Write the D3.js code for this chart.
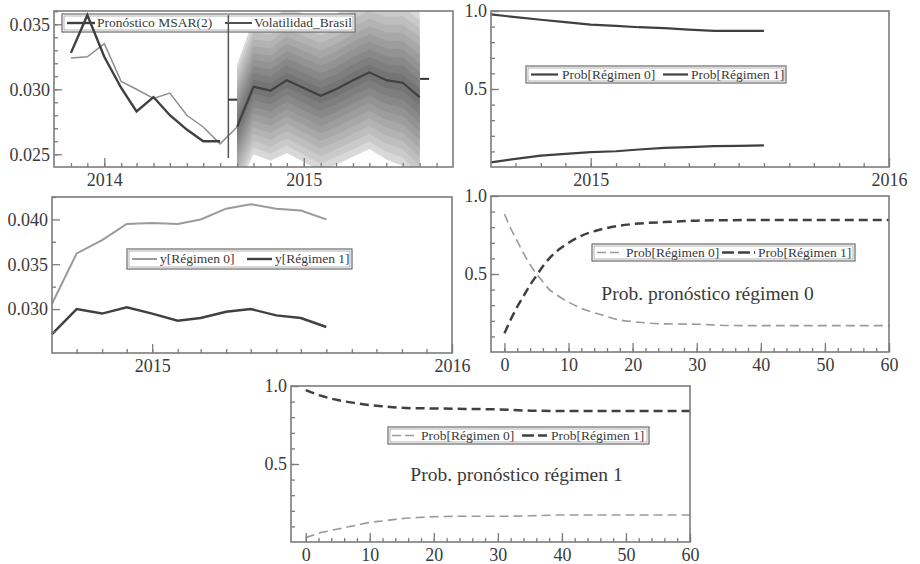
<!DOCTYPE html>
<html><head><meta charset="utf-8">
<script src="https://cdn.jsdelivr.net/npm/d3@7"></script>
<style>body{margin:0;background:#fff}svg{display:block}</style>
</head><body>
<svg id="c" width="920" height="564"></svg>
<script>
// ---------------- DATA ----------------
// Panel 1: in-sample fit and actual series (monthly)
const fitDates   = ["2013-11","2013-12","2014-01","2014-02","2014-03","2014-04","2014-05","2014-06","2014-07","2014-08"];
const msarFit    = [0.0328,0.0357,0.0325,0.0301,0.0283,0.0294,0.0280,0.0269,0.0260,0.0260];
const volDates   = ["2013-11","2013-12","2014-01","2014-02","2014-03","2014-04","2014-05","2014-06","2014-07","2014-08","2014-09"];
const volBrasil  = [0.0324,0.0325,0.0335,0.0306,0.0300,0.0293,0.0297,0.0280,0.0271,0.0258,0.0271];
// Forecast horizon (Sep 2014 - Aug 2015)
const fcDates    = ["2014-09","2014-10","2014-11","2014-12","2015-01","2015-02","2015-03","2015-04","2015-05","2015-06","2015-07","2015-08"];
const fcMedian   = [0.0271,0.0302,0.0299,0.0307,0.0301,0.0295,0.0300,0.0307,0.0313,0.0307,0.0305,0.0294];
const fcSpread   = [0.0048,0.0052,0.0054,0.0056,0.0057,0.0058,0.0058,0.0059,0.0059,0.0061,0.0064,0.0066];
const fanLevels  = [1.0,0.9,0.8,0.7,0.6,0.5,0.4,0.3,0.2,0.1];
const fcStart    = "2014-08-16";
const meanMarks  = [{d:"2014-08-24", v:0.0292},{d:"2015-08-10", v:0.0308}];
// Panel 2: smoothed regime probabilities over forecast period
const prob0Path  = [0.030,0.052,0.073,0.084,0.095,0.101,0.112,0.123,0.127,0.134,0.136,0.138];
const prob1Path  = [0.978,0.961,0.944,0.929,0.913,0.905,0.896,0.890,0.881,0.872,0.872,0.872];
// Panel 3: regime-conditional forecasts
const yReg0      = [0.0306,0.0362,0.0377,0.0395,0.0396,0.0395,0.0400,0.0412,0.0417,0.0412,0.0410,0.0400];
const yReg1      = [0.0272,0.0300,0.0295,0.0302,0.0295,0.0287,0.0290,0.0297,0.0300,0.0293,0.0290,0.0280];
// Panels 4 & 5: h-step regime probability forecasts
const horizon    = [0,1,2,3,4,5,6,7,8,10,12,15,18,20,25,30,35,40,50,60];
const fromR0_p0  = [0.885,0.79,0.71,0.63,0.56,0.50,0.45,0.40,0.37,0.32,0.28,0.24,0.205,0.195,0.180,0.178,0.170,0.169,0.169,0.169];
const fromR0_p1  = [0.120,0.21,0.29,0.36,0.43,0.49,0.55,0.60,0.64,0.70,0.745,0.785,0.810,0.820,0.833,0.842,0.845,0.846,0.846,0.846];
const fromR1_p0  = [0.028,0.042,0.056,0.066,0.075,0.083,0.092,0.100,0.108,0.125,0.135,0.150,0.158,0.162,0.165,0.165,0.168,0.173,0.173,0.173];
const fromR1_p1  = [0.974,0.958,0.942,0.930,0.919,0.910,0.902,0.895,0.889,0.878,0.870,0.860,0.857,0.856,0.853,0.850,0.842,0.840,0.840,0.840];
// Tick labels
const yearTicks  = ["2014","2015","2016"];
const probLabels = ["0.5","1.0"];
const hTicks     = [0,10,20,30,40,50,60];

// ---------------- STYLE ----------------
const FONT = "'Liberation Serif','Times New Roman',serif";
const TXT = "#3a3a3a", FRAME = "#7c7c7c", DARK = "#404040", LIGHT = "#8e8e8e", DLIGHT="#9a9a9a";
const parse = d3.utcParse("%Y-%m");
const parseD = d3.utcParse("%Y-%m-%d");

const svg = d3.select("#c");
svg.append("rect").attr("width",920).attr("height",564).attr("fill","#fff");

const P1 = {x0:54,x1:453,y0:11,y1:167};
const P2 = {x0:491,x1:889,y0:11,y1:167};
const P3 = {x0:52,x1:452,y0:197,y1:353};
const P4 = {x0:491,x1:889,y0:196,y1:352};
const P5 = {x0:291,x1:690,y0:386,y1:542};

function frame(g,b){
  g.append("rect").attr("x",b.x0).attr("y",b.y0).attr("width",b.x1-b.x0).attr("height",b.y1-b.y0)
   .attr("fill","none").attr("stroke",FRAME).attr("stroke-width",1.6);
}
function styleAxis(a){
  a.attr("font-family",FONT).attr("font-size",18);
  a.select(".domain").remove();
  a.selectAll(".tick line").attr("stroke",FRAME).attr("stroke-width",1.3);
  a.selectAll(".tick text").attr("fill",TXT).attr("font-family",FONT).attr("font-size",18);
}
function xAxes(g,b,x,minor,major,fmt){
  const a1 = g.append("g").attr("transform",`translate(0,${b.y1})`)
    .call(d3.axisBottom(x).tickValues(minor).tickSize(-4).tickFormat(""));
  styleAxis(a1);
  const a2 = g.append("g").attr("transform",`translate(0,${b.y1})`)
    .call(d3.axisBottom(x).tickValues(major).tickSize(-9).tickPadding(6).tickFormat(fmt));
  styleAxis(a2);
}
function yAxes(g,b,y,minor,major,fmt){
  const a1 = g.append("g").attr("transform",`translate(${b.x0},0)`)
    .call(d3.axisLeft(y).tickValues(minor).tickSize(-4).tickFormat(""));
  styleAxis(a1);
  const a2 = g.append("g").attr("transform",`translate(${b.x0},0)`)
    .call(d3.axisLeft(y).tickValues(major).tickSize(-8).tickPadding(4).tickFormat(fmt));
  styleAxis(a2);
}
function legend(g,box,items){
  g.append("rect").attr("x",box[0]).attr("y",box[1]).attr("width",box[2]-box[0]).attr("height",box[3]-box[1])
   .attr("fill","#fff").attr("stroke","#6a6a6a").attr("stroke-width",1.2);
  g.append("rect").attr("x",box[0]+2).attr("y",box[1]+2).attr("width",box[2]-box[0]-4).attr("height",box[3]-box[1]-4)
   .attr("fill","none").attr("stroke","#a0a0a0").attr("stroke-width",0.8);
  const ym = (box[1]+box[3])/2;
  items.forEach(it=>{
    g.append("line").attr("x1",it.l[0]).attr("x2",it.l[1]).attr("y1",ym).attr("y2",ym)
      .attr("stroke",it.c).attr("stroke-width",it.w).attr("stroke-dasharray",it.dash||null);
    g.append("text").attr("x",it.t).attr("y",ym).attr("dy","0.33em").text(it.label)
      .attr("font-family",FONT).attr("font-size",13.5).attr("fill",TXT);
  });
}
function clip(id,b){
  svg.append("clipPath").attr("id",id).append("rect")
    .attr("x",b.x0).attr("y",b.y0).attr("width",b.x1-b.x0).attr("height",b.y1-b.y0);
}

// ---------------- PANEL 1 ----------------
{
  const b = P1, g = svg.append("g");
  clip("c1",b);
  const x = d3.scaleUtc().domain([parse("2013-10"),parse("2015-10")]).range([b.x0,b.x1]);
  const y = d3.scaleLinear().domain([0.02402,0.03602]).range([b.y1,b.y0]);
  const gc = g.append("g").attr("clip-path","url(#c1)");
  const col = d3.interpolateRgb("#d8d8d8","#747474");
  const fc = fcDates.map((d,i)=>({d:parse(d),m:fcMedian[i],s:fcSpread[i]}));
  fanLevels.forEach((f,k)=>{
    gc.append("path").datum(fc)
      .attr("d",d3.area().x(p=>x(p.d)).y0(p=>y(p.m-f*p.s)).y1(p=>y(p.m+f*p.s)))
      .attr("fill",col(Math.pow(k/(fanLevels.length-1),0.9))).attr("stroke","none");
  });
  const ln = d3.line().x(p=>x(p.d)).y(p=>y(p.v));
  gc.append("path").datum(fc.map(p=>({d:p.d,v:p.m}))).attr("d",ln)
    .attr("fill","none").attr("stroke",DARK).attr("stroke-width",2.2);
  legend(g,[62,14,355,32],[
    {l:[67,95],t:97,label:"Pronóstico MSAR(2)",c:DARK,w:2.4},
    {l:[225,252],t:254,label:"Volatilidad_Brasil",c:"#505050",w:2}
  ]);
  const gl = g.append("g").attr("clip-path","url(#c1)");
  gl.append("path").datum(volDates.map((d,i)=>({d:parse(d),v:volBrasil[i]}))).attr("d",ln)
    .attr("fill","none").attr("stroke",LIGHT).attr("stroke-width",1.5);
  gl.append("path").datum(fitDates.map((d,i)=>({d:parse(d),v:msarFit[i]}))).attr("d",ln)
    .attr("fill","none").attr("stroke",DARK).attr("stroke-width",2.4);
  const xs = x(parseD(fcStart));
  g.append("line").attr("x1",xs).attr("x2",xs).attr("y1",y(0.0357)).attr("y2",y(0.0247))
    .attr("stroke","#555").attr("stroke-width",1.5);
  meanMarks.forEach(m=>{
    const cx = x(parseD(m.d));
    g.append("line").attr("x1",cx-4.5).attr("x2",cx+4.5).attr("y1",y(m.v)).attr("y2",y(m.v))
      .attr("stroke","#333").attr("stroke-width",2);
  });
  frame(g,b);
  xAxes(g,b,x,d3.utcMonth.range(parse("2013-11"),parse("2015-10")),
        yearTicks.slice(0,2).map(s=>d3.utcParse("%Y")(s)), d3.utcFormat("%Y"));
  yAxes(g,b,y,d3.range(0.025,0.0361,0.001),[0.025,0.030,0.035],d3.format(".3f"));
}

// ---------------- PANEL 2 ----------------
{
  const b = P2, g = svg.append("g");
  const x = d3.scaleUtc().domain([parse("2014-09"),parse("2016-01")]).range([b.x0,b.x1]);
  const y = d3.scaleLinear().domain([0,1]).range([b.y1,b.y0]);
  const ln = d3.line().x(p=>x(p.d)).y(p=>y(p.v));
  [prob0Path,prob1Path].forEach(arr=>{
    g.append("path").datum(fcDates.map((d,i)=>({d:parse(d),v:arr[i]}))).attr("d",ln)
      .attr("fill","none").attr("stroke",DARK).attr("stroke-width",2.2);
  });
  legend(g,[526,66,786,83],[
    {l:[531,558],t:562,label:"Prob[Régimen 0]",c:DARK,w:2.2},
    {l:[663,688],t:691,label:"Prob[Régimen 1]",c:DARK,w:2.2}
  ]);
  frame(g,b);
  xAxes(g,b,x,d3.utcMonth.range(parse("2014-10"),parse("2016-01")),
        yearTicks.slice(1).map(s=>d3.utcParse("%Y")(s)), d3.utcFormat("%Y"));
  yAxes(g,b,y,d3.range(0.1,0.95,0.1),probLabels.map(Number),d3.format(".1f"));
}

// ---------------- PANEL 3 ----------------
{
  const b = P3, g = svg.append("g");
  const x = d3.scaleUtc().domain([parse("2014-09"),parse("2016-01")]).range([b.x0,b.x1]);
  const y = d3.scaleLinear().domain([0.0251,0.0425]).range([b.y1,b.y0]);
  const ln = d3.line().x(p=>x(p.d)).y(p=>y(p.v));
  g.append("path").datum(fcDates.map((d,i)=>({d:parse(d),v:yReg0[i]}))).attr("d",ln)
    .attr("fill","none").attr("stroke",DLIGHT).attr("stroke-width",2);
  g.append("path").datum(fcDates.map((d,i)=>({d:parse(d),v:yReg1[i]}))).attr("d",ln)
    .attr("fill","none").attr("stroke",DARK).attr("stroke-width",2.4);
  legend(g,[127,249,352,269],[
    {l:[132,157],t:160,label:"y[Régimen 0]",c:DLIGHT,w:2},
    {l:[247,272],t:275,label:"y[Régimen 1]",c:DARK,w:2.4}
  ]);
  frame(g,b);
  xAxes(g,b,x,d3.utcMonth.range(parse("2014-10"),parse("2016-01")),
        yearTicks.slice(1).map(s=>d3.utcParse("%Y")(s)), d3.utcFormat("%Y"));
  yAxes(g,b,y,[0.0275,0.0325,0.0375,0.0425],[0.030,0.035,0.040],d3.format(".3f"));
}

// ---------------- PANELS 4 & 5 ----------------
function hPanel(b,dom,p0,p1,leg,ann,annY){
  const g = svg.append("g");
  const x = d3.scaleLinear().domain(dom).range([b.x0,b.x1]);
  const y = d3.scaleLinear().domain([0,1]).range([b.y1,b.y0]);
  const ln = d3.line().x(p=>x(p.h)).y(p=>y(p.v)).curve(d3.curveMonotoneX);
  g.append("path").datum(horizon.map((h,i)=>({h,v:p0[i]}))).attr("d",ln)
    .attr("fill","none").attr("stroke",DLIGHT).attr("stroke-width",1.6).attr("stroke-dasharray","9,5");
  g.append("path").datum(horizon.map((h,i)=>({h,v:p1[i]}))).attr("d",ln)
    .attr("fill","none").attr("stroke",DARK).attr("stroke-width",2.5).attr("stroke-dasharray","9,5");
  legend(g,leg.box,[
    {l:leg.l0,t:leg.t0,label:"Prob[Régimen 0]",c:DLIGHT,w:1.6,dash:"9,4"},
    {l:leg.l1,t:leg.t1,label:"Prob[Régimen 1]",c:DARK,w:2.5,dash:"12,4"}
  ]);
  g.append("text").attr("x",(b.x0+b.x1)/2+ann.dx).attr("y",b.y0+annY).attr("text-anchor","middle")
    .text(ann.text).attr("font-family",FONT).attr("font-size",19.5).attr("fill",TXT);
  frame(g,b);
  xAxes(g,b,x,d3.range(0,61,2),hTicks,d3.format("d"));
  yAxes(g,b,y,d3.range(0.1,0.95,0.1),probLabels.map(Number),d3.format(".1f"));
}
hPanel(P4,[-2.1,60],fromR0_p0,fromR0_p1,
  {box:[592,244,855,261],l0:[597,623],t0:626,l1:[722,755],t1:758},
  {text:"Prob. pronóstico régimen 0",dx:17.5},104);
hPanel(P5,[-2.3,60],fromR1_p0,fromR1_p1,
  {box:[388,427,649,444],l0:[392,417],t0:421,l1:[522,547],t1:551},
  {text:"Prob. pronóstico régimen 1",dx:26},95);
</script>
</body></html>
